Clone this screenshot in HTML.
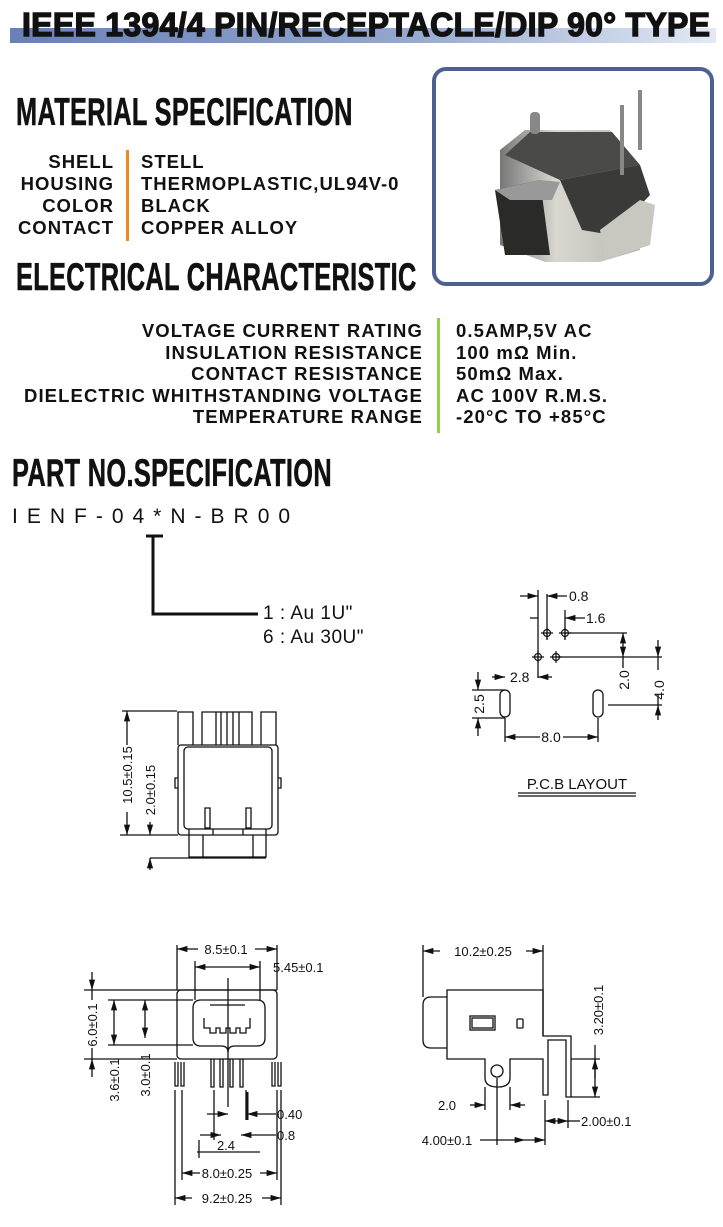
<!DOCTYPE html>
<html><head><meta charset="utf-8">
<style>
html,body{margin:0;padding:0;background:#fff;}
body{width:723px;height:1227px;position:relative;overflow:hidden;font-family:"Liberation Sans",sans-serif;color:#111;}
.t{position:absolute;white-space:nowrap;}
.h{font-weight:bold;font-size:39px;line-height:39px;transform-origin:left top;transform:scaleX(0.65);letter-spacing:0.5px;-webkit-text-stroke:0.6px #111;}
.m{font-weight:bold;font-size:18.5px;letter-spacing:1px;line-height:22px;}
.e{font-weight:bold;font-size:18.5px;letter-spacing:1.1px;line-height:21.5px;}
svg{position:absolute;left:0;top:0;}
svg text{font-family:"Liberation Sans",sans-serif;fill:#111;}
</style></head><body>

<div style="position:absolute;left:10px;top:28px;width:706px;height:15px;background:linear-gradient(90deg,#6a80b6 0%,#93a6cf 55%,#e3e9f4 100%);"></div>
<div class="t" style="left:22px;top:8px;font-size:33px;line-height:33px;font-weight:900;letter-spacing:0.3px;transform:scaleX(0.97);transform-origin:left top;-webkit-text-stroke:1.4px #111;">IEEE 1394/4 PIN/RECEPTACLE/DIP 90° TYPE</div>

<div class="t h" style="left:16px;top:93px;">MATERIAL SPECIFICATION</div>
<div class="t m" style="left:0;top:151px;width:114px;text-align:right;">SHELL<br>HOUSING<br>COLOR<br>CONTACT</div>
<div style="position:absolute;left:126px;top:150px;width:3px;height:91px;background:#f08a1c;"></div>
<div class="t m" style="left:141px;top:151px;">STELL<br>THERMOPLASTIC,UL94V-0<br>BLACK<br>COPPER ALLOY</div>

<div class="t h" style="left:16px;top:258px;">ELECTRICAL CHARACTERISTIC</div>
<div class="t e" style="left:0;top:320px;width:423px;text-align:right;">VOLTAGE CURRENT RATING<br>INSULATION RESISTANCE<br>CONTACT RESISTANCE<br>DIELECTRIC WHITHSTANDING VOLTAGE<br>TEMPERATURE RANGE</div>
<div style="position:absolute;left:437px;top:318px;width:3px;height:115px;background:#8fd14a;"></div>
<div class="t e" style="left:456px;top:320px;">0.5AMP,5V AC<br>100 mΩ Min.<br>50mΩ Max.<br>AC 100V R.M.S.<br>-20°C TO +85°C</div>

<div class="t h" style="left:12px;top:454px;">PART NO.SPECIFICATION</div>
<div class="t" style="left:12px;top:505px;font-size:21px;letter-spacing:9px;">IENF-04*N-BR00</div>
<div class="t" style="left:263px;top:602px;font-size:19px;letter-spacing:0.5px;line-height:24px;">1 : Au 1U"<br>6 : Au 30U"</div>

<div style="position:absolute;left:432px;top:67px;width:274px;height:211px;border:4px solid #4d6190;border-radius:14px;background:#fff;"></div>

<svg width="723" height="1227" viewBox="0 0 723 1227">
<defs>
<marker id="a" viewBox="0 0 10 6" refX="10" refY="3" markerWidth="8" markerHeight="5" orient="auto-start-reverse"><path d="M0,0L10,3L0,6z" fill="#111"/></marker>
<linearGradient id="sv" x1="0" x2="1"><stop offset="0" stop-color="#777"/><stop offset="0.4" stop-color="#d8d8d0"/><stop offset="1" stop-color="#b8b8b0"/></linearGradient>
</defs>
<g>
<polygon points="500,150 525,130 610,130 640,165 640,250 600,262 545,262 500,245" fill="url(#sv)"/>
<polygon points="505,155 530,132 612,132 640,165 560,180" fill="#4a4a48"/>
<polygon points="560,180 640,165 650,195 612,235 582,230" fill="#3a3a38"/>
<polygon points="495,190 540,180 550,255 505,255" fill="#2a2a28"/>
<polygon points="495,190 540,180 560,182 552,200 510,200" fill="#999"/>
<rect x="620" y="105" width="4" height="70" fill="#888"/><rect x="638" y="90" width="4" height="60" fill="#888"/>
<rect x="530" y="112" width="10" height="22" rx="4" fill="#888"/>
<polygon points="600,230 640,200 655,205 650,245 605,260" fill="#c8c8c0"/>
</g>

<g stroke="#111" fill="none" stroke-width="1.3">
<path d="M146,536H163M153,536V614H258" stroke-width="3"/>

<path d="M538,590V678M547,594V640M565,610V640"/>
<path d="M520,596H538" marker-end="url(#a)"/><path d="M567,596H547" marker-end="url(#a)"/>
<path d="M530,618H538"/><path d="M585,618H565" marker-end="url(#a)"/>
<g stroke-width="1.2">
<circle cx="547" cy="633" r="3.5"/><path d="M541,633h12M547,627v12"/>
<circle cx="565" cy="633" r="3.5"/><path d="M559,633h12M565,627v12"/>
<circle cx="538" cy="657" r="3.5"/><path d="M532,657h12M538,651v12"/>
<circle cx="556" cy="657" r="3.5"/><path d="M550,657h12M556,651v12"/>
</g>
<path d="M565,633H627M556,657H662"/>
<path d="M623,633V657" marker-start="url(#a)" marker-end="url(#a)"/><path d="M623,657V668"/>
<path d="M658,640V657" marker-end="url(#a)"/><path d="M658,720V705" marker-end="url(#a)"/>
<path d="M658,657V670M658,694V705"/>
<path d="M492,677H505" marker-end="url(#a)"/><path d="M552,677H538" marker-end="url(#a)"/>
<rect x="500" y="690" width="10" height="27" rx="5"/>
<rect x="593" y="690" width="10" height="27" rx="5"/>
<path d="M608,705H662"/>
<path d="M472,690H505M472,718H505"/>
<path d="M478,672V690" marker-end="url(#a)"/><path d="M478,736V718" marker-end="url(#a)"/>
<path d="M505,718V742M598,718V742"/>
<path d="M540,737H505" marker-end="url(#a)"/><path d="M563,737H598" marker-end="url(#a)"/>
<path d="M518,793H636M518,796H636"/>

<path d="M122,711H177"/>
<path d="M127,711V745" marker-start="url(#a)"/><path d="M127,812V835" marker-end="url(#a)"/>
<path d="M120,835H178M150,858H266"/>
<path d="M150,822V835" marker-end="url(#a)"/><path d="M150,858V870" marker-start="url(#a)"/>
<path d="M178,745V712H193V745M261,745V712H276V745M202,745V712H216V745M239,745V712H252V745M216,712H239M221,712V745M227,712V745M233,712V745"/>
<rect x="178" y="745" width="100" height="90" rx="3"/>
<rect x="184" y="747" width="88" height="82" rx="4"/>
<path d="M178,778h-3v10h3M278,778h3v10h-3"/>
<path d="M189,829V857H266V829M203,835V857M253,835V857M205,808V828h5V808zM246,808V828h5V808z"/>
<path d="M213,829V835M243,829V835"/>

<path d="M177,945V990M277,945V990"/>
<path d="M198,949H177" marker-end="url(#a)"/><path d="M255,949H277" marker-end="url(#a)"/>
<path d="M195,961V1000M260,961V1000"/>
<path d="M195,967H260" marker-start="url(#a)" marker-end="url(#a)"/>
<path d="M84,990H277M84,1059H177"/>
<rect x="177" y="990" width="100" height="69" rx="4"/>
<path d="M193,1008q0,-8 8,-8h56q8,0 8,8v30q0,8 -8,8h-22q-7,0 -7,6q0,-6 -7,-6h-20q-8,0 -8,-8z"/>
<path d="M204,1018v10h6v5h6v-5h4v5h6v-5h4v5h6v-5h4v5h6v-5h4v-10"/>
<path d="M210,1005h35"/>
<path d="M228,978V1107"/>
<path d="M92,972V990" marker-end="url(#a)"/><path d="M92,1077V1059" marker-end="url(#a)"/>
<path d="M92,990V1000M92,1048V1059"/>
<path d="M108,1000H193M108,1045H193"/>
<path d="M114,1000V1045" marker-start="url(#a)" marker-end="url(#a)"/>
<path d="M145,1000V1038" marker-start="url(#a)" marker-end="url(#a)"/>
<path d="M175,1062v24h3v-24M181,1062v24h3v-24M272,1062v24h3v-24M278,1062v24h3v-24"/>
<path d="M211,1059v28h3v-28M220,1059v28h3v-28M230,1059v28h3v-28M240,1059v28h3v-28"/>
<path d="M175,1090V1205M281,1090V1205M182,1090V1180M277,1090V1180"/>
<path d="M214,1090V1140M246,1090V1120M199,1140V1158"/>
<path d="M247,1092V1120" stroke-width="3"/>
<path d="M200,1173H182" marker-end="url(#a)"/><path d="M260,1173H277" marker-end="url(#a)"/>
<path d="M192,1198H175" marker-end="url(#a)"/><path d="M262,1198H281" marker-end="url(#a)"/>
<path d="M207,1114H228" marker-end="url(#a)"/><path d="M276,1114H247" marker-end="url(#a)"/>
<path d="M200,1135H221" marker-end="url(#a)"/><path d="M276,1135H241" marker-end="url(#a)"/>
<path d="M197,1152H260"/>

<path d="M423,945V997M543,945V1036"/>
<path d="M440,951H423" marker-end="url(#a)"/><path d="M526,951H543" marker-end="url(#a)"/>
<path d="M447,990H543V1036H571V1097H566V1040H548V1095H543V1059H510V1078q0,9 -12,9q-13,0 -13,-9V1059H447Z"/>
<path d="M447,997H431q-8,0 -8,8V1040q0,8 8,8H447"/>
<rect x="470" y="1016" width="25" height="14"/><rect x="472" y="1018" width="21" height="10"/>
<rect x="517" y="1019" width="6" height="9" rx="1"/>
<circle cx="497" cy="1071" r="6"/>
<path d="M571,1059H600M571,1097H600"/>
<path d="M595,1045V1059M595,1059V1097" marker-end="url(#a)"/><path d="M595,1078V1059" marker-end="url(#a)"/>
<path d="M485,1087V1110M510,1087V1110M497,1078V1145M545,1100V1145M568,1100V1128"/>
<path d="M470,1105H485" marker-end="url(#a)"/><path d="M525,1105H510" marker-end="url(#a)"/>
<path d="M525,1140H497" marker-start="url(#a)"/><path d="M480,1140H497"/><path d="M525,1140H545" marker-end="url(#a)"/>
<path d="M545,1121H568" marker-start="url(#a)" marker-end="url(#a)"/><path d="M568,1121H580"/>
</g>

<g font-size="14">
<text x="569" y="601">0.8</text>
<text x="586" y="623">1.6</text>
<text x="629" y="680" transform="rotate(-90 629 680)" text-anchor="middle">2.0</text>
<text x="664" y="690" transform="rotate(-90 664 690)" text-anchor="middle">4.0</text>
<text x="510" y="682">2.8</text>
<text x="484" y="704" transform="rotate(-90 484 704)" text-anchor="middle">2.5</text>
<text x="551" y="742" text-anchor="middle">8.0</text>
<text x="577" y="789" text-anchor="middle" font-size="15">P.C.B LAYOUT</text>
</g>
<g font-size="13">
<text x="132" y="775" transform="rotate(-90 132 775)" text-anchor="middle">10.5±0.15</text>
<text x="155" y="790" transform="rotate(-90 155 790)" text-anchor="middle">2.0±0.15</text>
<text x="226" y="954" text-anchor="middle">8.5±0.1</text>
<text x="273" y="972">5.45±0.1</text>
<text x="97" y="1025" transform="rotate(-90 97 1025)" text-anchor="middle">6.0±0.1</text>
<text x="119" y="1080" transform="rotate(-90 119 1080)" text-anchor="middle">3.6±0.1</text>
<text x="150" y="1075" transform="rotate(-90 150 1075)" text-anchor="middle">3.0±0.1</text>
<text x="277" y="1119">0.40</text>
<text x="277" y="1140">0.8</text>
<text x="226" y="1150" text-anchor="middle">2.4</text>
<text x="227" y="1178" text-anchor="middle">8.0±0.25</text>
<text x="227" y="1203" text-anchor="middle">9.2±0.25</text>
<text x="483" y="956" text-anchor="middle">10.2±0.25</text>
<text x="603" y="1010" transform="rotate(-90 603 1010)" text-anchor="middle">3.20±0.1</text>
<text x="447" y="1110" text-anchor="middle">2.0</text>
<text x="447" y="1145" text-anchor="middle">4.00±0.1</text>
<text x="581" y="1126">2.00±0.1</text>
</g>
</svg>
</body></html>
